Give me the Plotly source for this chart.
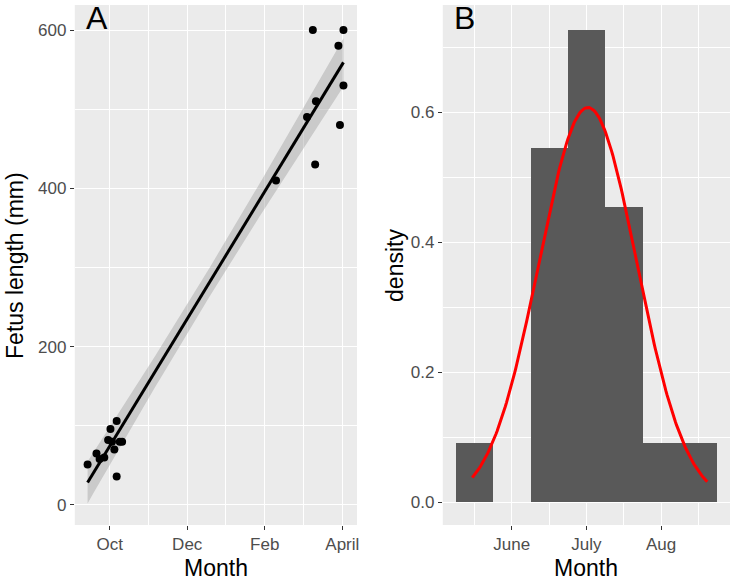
import numpy as np
import plotly.graph_objects as go

# ---------------- Panel A data: fetus length vs month ----------------
# month as numeric (10 = Oct, 12 = Dec, 14 = Feb, 16 = April)
month_a = [9.43, 9.66, 9.74, 9.86, 10.02, 10.18, 10.06, 10.26, 10.12, 10.18, 9.96, 10.32,
           14.29, 15.09, 15.24, 15.30, 15.32, 15.90, 15.94, 16.03, 16.03]
length_mm = [51, 65, 58, 60, 96, 106, 80, 80, 70, 36, 82, 80,
             410, 490, 600, 430, 510, 580, 480, 530, 600]
a_tickvals = [10, 12, 14, 16]
a_ticktext = ["Oct", "Dec", "Feb", "April"]
a_minor = [11, 13, 15]
a_yticks = [0, 200, 400, 600]
a_yminor = [100, 300, 500]

# ---------------- Panel B data: histogram of month ----------------
bin_edges = [5.25, 5.75, 6.25, 6.75, 7.25, 7.75, 8.25, 8.75]
bin_counts = [1, 0, 6, 8, 5, 1, 1]
norm_mean = 7.02
norm_sd = 0.657
curve_min = 5.47
curve_max = 8.62
b_tickvals = [6, 7, 8]
b_ticktext = ["June", "July", "Aug"]
b_minor = [5.5, 6.5, 7.5, 8.5]
b_yticks = [0.0, 0.2, 0.4, 0.6]
b_yticktext = ["0.0", "0.2", "0.4", "0.6"]
b_yminor = [0.1, 0.3, 0.5, 0.7]

# ---------------- computations ----------------
x = np.array(month_a, dtype=float)
y = np.array(length_mm, dtype=float)
n = len(x)
b1, b0 = np.polyfit(x, y, 1)
resid = y - (b0 + b1 * x)
s = np.sqrt(np.sum(resid ** 2) / (n - 2))
xbar = x.mean()
sxx = np.sum((x - xbar) ** 2)
tval = 2.093  # t(0.975, df=19)
xs = np.linspace(x.min(), x.max(), 80)
fit = b0 + b1 * xs
se = s * np.sqrt(1.0 / n + (xs - xbar) ** 2 / sxx)
upper = fit + tval * se
lower = fit - tval * se

edges = np.array(bin_edges)
widths = np.diff(edges)
centers = (edges[:-1] + edges[1:]) / 2
counts = np.array(bin_counts, dtype=float)
density = counts / (counts.sum() * widths)
cx = np.linspace(curve_min, curve_max, 200)
cy = np.exp(-0.5 * ((cx - norm_mean) / norm_sd) ** 2) / (norm_sd * np.sqrt(2 * np.pi))

W, H = 736, 580
FONT = "Liberation Sans, Arial, sans-serif"
BG = "#EBEBEB"

fig = go.Figure()
# band
fig.add_trace(go.Scatter(x=np.concatenate([xs, xs[::-1]]), y=np.concatenate([upper, lower[::-1]]),
                         fill="toself", fillcolor="rgba(153,153,153,0.4)", line=dict(width=0),
                         mode="lines", hoverinfo="skip", showlegend=False, xaxis="x", yaxis="y"))
fig.add_trace(go.Scatter(x=x, y=y, mode="markers", marker=dict(color="black", size=8),
                         showlegend=False, xaxis="x", yaxis="y"))
fig.add_trace(go.Scatter(x=xs, y=fit, mode="lines", line=dict(color="black", width=3),
                         showlegend=False, xaxis="x", yaxis="y"))
# histogram
fig.add_trace(go.Bar(x=centers, y=density, width=widths, marker=dict(color="#595959", line=dict(width=0)),
                     showlegend=False, xaxis="x2", yaxis="y2"))
fig.add_trace(go.Scatter(x=cx, y=cy, mode="lines", line=dict(color="red", width=3),
                         showlegend=False, xaxis="x2", yaxis="y2"))

ax_common = dict(showline=False, zeroline=False, gridcolor="white", gridwidth=1.3,
                 ticks="outside", ticklen=4, tickwidth=1.2, tickcolor="#333333",
                 tickfont=dict(family=FONT, size=17, color="#4D4D4D"))


def minor(vals):
    return dict(tickvals=vals, showgrid=True, gridcolor="white", gridwidth=0.6, ticks="")


TITLE_FONT = dict(family=FONT, size=23, color="black")

fig.update_layout(
    width=W, height=H, margin=dict(l=0, r=0, t=5, b=55),
    paper_bgcolor="white", plot_bgcolor=BG, bargap=0,
    xaxis=dict(domain=[75 / W, 358 / W], range=[9.10, 16.38], tickmode="array",
               tickvals=a_tickvals, ticktext=a_ticktext, minor=minor(a_minor), anchor="y", **ax_common),
    yaxis=dict(domain=[0, 1], range=[-25.3, 631.6], tickmode="array", tickvals=a_yticks,
               minor=minor(a_yminor), anchor="x", **ax_common),
    xaxis2=dict(domain=[444 / W, 732 / W], range=[5.075, 8.925], tickmode="array",
                tickvals=b_tickvals, ticktext=b_ticktext, minor=minor(b_minor), anchor="y2", **ax_common),
    yaxis2=dict(domain=[0, 1], range=[-0.0354, 0.765], tickmode="array", tickvals=b_yticks,
                ticktext=b_yticktext, minor=minor(b_yminor), anchor="x2", **ax_common),
    annotations=[
        dict(text="A", xref="x domain", yref="y domain", x=0.08, y=0.975, showarrow=False,
             font=dict(family=FONT, size=32, color="black"), xanchor="center", yanchor="middle"),
        dict(text="B", xref="x2 domain", yref="y2 domain", x=0.075, y=0.975, showarrow=False,
             font=dict(family=FONT, size=32, color="black"), xanchor="center", yanchor="middle"),
        dict(text="Month", xref="x domain", yref="paper", x=0.5, y=-0.083, showarrow=False,
             font=TITLE_FONT, xanchor="center", yanchor="middle"),
        dict(text="Month", xref="x2 domain", yref="paper", x=0.5, y=-0.083, showarrow=False,
             font=TITLE_FONT, xanchor="center", yanchor="middle"),
        dict(text="Fetus length (mm)", xref="paper", yref="paper", x=15 / W, y=0.5, showarrow=False,
             textangle=-90, font=TITLE_FONT, xanchor="center", yanchor="middle"),
        dict(text="density", xref="paper", yref="paper", x=396 / W, y=0.5, showarrow=False,
             textangle=-90, font=TITLE_FONT, xanchor="center", yanchor="middle"),
    ],
)

fig.write_html("out.html")
